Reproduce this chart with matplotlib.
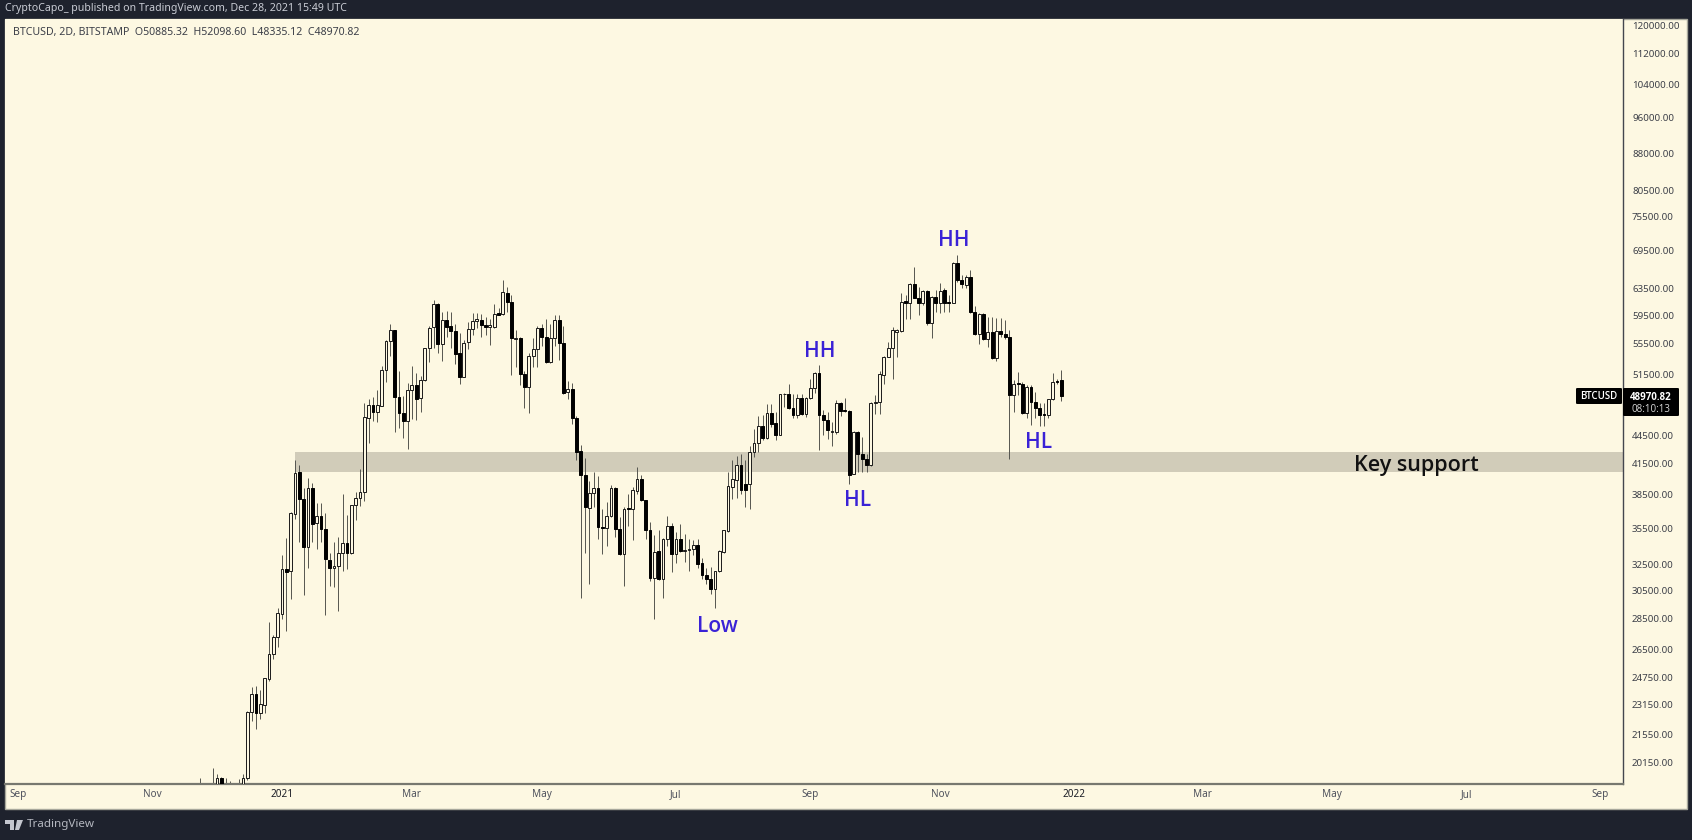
# -*- coding: utf-8 -*-
import pandas as pd
import numpy as np
import matplotlib
matplotlib.use('Agg')
import matplotlib.pyplot as plt
import matplotlib.dates as mdates
from matplotlib.patches import Rectangle, FancyBboxPatch, Polygon
from matplotlib.ticker import NullLocator, NullFormatter

# 2D candles, last one is the bar in the header
opens = [18600,18900,18750,18650,19050,19400,18900,19050,18900,18800,
         19000,19370,22740,23780,22680,23130,24620,26190,27260,28880,
         32150,31980,36740,40660,38100,33900,39100,35920,36600,35400,
         32890,32210,32430,33400,34260,33400,37600,38200,38760,46350,
         47910,47000,47790,52110,55830,57400,48790,46990,46000,49570,
         50240,48650,50800,54880,57800,61080,55450,58800,57950,57200,
         54300,51250,55750,57500,58650,58800,58100,57850,57850,59840,
         59730,62750,61400,56130,56330,51640,50030,53840,54780,57690,
         56450,53100,56330,58800,55600,49350,49800,46320,42810,40430,
         37320,38670,39140,35600,35520,36570,39140,35460,33380,37320,
         37230,38820,40040,37980,35370,31460,33570,31410,34580,35740,
         33380,34580,33570,33700,33750,34130,32630,31710,31380,30670,
         32000,33510,35240,39230,39940,41420,39560,39560,42750,43680,
         45480,44200,46980,45810,44550,49120,49200,47560,46680,48730,
         46800,48690,49900,51730,46750,46200,44840,44840,48080,47250,
         47130,40500,44840,42530,42030,41350,48080,48220,51520,53730,
         54880,57180,57230,61560,61310,64150,62050,61200,63060,58400,
         62200,61200,63210,61410,61260,67550,64770,64050,65290,59980,
         56810,59640,56220,57130,53570,57230,56810,56450,49090,50490,
         50410,46980,50030,48230,47480,46800,46760,48500,50690,50885]
highs = [19400,19000,18950,19880,19570,19450,19400,19230,19050,19320,
         19570,22800,24150,24240,23980,24720,28270,27430,29260,33250,
         34700,36960,41900,41370,39100,40060,39620,37760,37760,36800,
         33400,34350,34790,38560,36640,37600,38760,41000,48120,48550,
         48750,49600,52550,55970,58300,57450,52000,48950,50480,52600,
         51700,51370,54880,57900,61650,61330,60000,60090,59880,58200,
         56950,55970,58450,59840,59840,59730,59200,59000,61080,60500,
         64730,63730,62480,57450,56430,52000,54270,56330,58000,58300,
         59000,58200,59470,59470,57950,50700,50530,46570,43470,42120,
         39820,40690,40270,37220,37830,39400,39230,36480,37380,38600,
         39230,41190,40370,38040,36040,34890,35370,34640,36540,35950,
         35180,35830,35000,34610,34550,34610,33070,32210,32320,32040,
         33650,35370,40670,41850,42270,42530,41850,43300,45200,46610,
         46690,48020,48020,47060,49200,49290,50410,49200,49200,49200,
         48810,51030,51850,52790,47250,47060,45930,48450,48260,48650,
         47250,44920,44950,44290,42530,48180,49010,52000,53950,55700,
         57830,57600,62700,62450,64270,66900,63650,63210,63210,62300,
         63210,64270,63470,62450,67710,68800,65560,65560,66370,60820,
         59830,59830,59160,59260,59040,59040,58790,57460,50820,51850,
         50610,50200,50200,49330,48080,48080,48610,51730,51030,52098]
lows = [18200,18300,18100,18500,18800,18700,18700,18600,18300,18500,
        18900,19300,22280,21810,22380,22680,24500,25840,26600,28520,
        27670,29900,36350,34350,30240,32260,34350,33800,34350,28760,
        30900,30820,29070,32000,32150,33340,36180,37440,37930,43670,
        46080,45890,47700,50550,53950,44850,45300,44130,43000,46280,
        46200,47000,50680,53150,55000,54300,53300,56450,55000,52900,
        50330,51170,54780,56700,57700,56450,56700,55400,57700,59470,
        59470,60000,51500,52460,50240,47490,46950,52460,52460,55200,
        53000,52950,55200,53400,49200,48550,45700,41850,29970,33430,
        31030,37380,34610,33320,34050,36480,34750,33250,30900,35740,
        34520,38600,37920,34610,31230,28510,31360,29970,34050,31920,
        32630,33510,32710,32000,33300,32210,31410,31030,30300,29260,
        31930,33460,35180,38130,38190,38600,37380,37230,42210,42710,
        43930,44110,45380,43930,44450,47600,47450,46320,46320,46680,
        46500,48570,49300,42880,44450,44110,43330,44660,46570,47090,
        39570,40460,40690,40690,40690,41250,46870,46800,50330,53730,
        51030,53780,57130,58990,58990,61950,59500,60950,58080,56350,
        60000,59740,59950,59950,61260,64520,63500,63500,59830,56660,
        55530,56000,55100,53440,53220,56450,56220,42030,47060,49010,
        46870,46320,45630,46320,45490,45490,46320,48420,50400,48335]
closes = [18900,18750,18650,19050,19400,18900,19050,18900,18800,19000,
          19400,22740,23780,22680,23210,24680,26190,27310,28930,32150,
          31900,36810,40590,38100,33900,39100,35860,36540,35400,32950,
          32210,32430,33400,34260,33460,37600,38200,38760,46470,47830,
          47000,47830,52110,55830,57400,48750,46950,46000,49570,50240,
          48610,50800,54880,57690,61080,55450,58800,57850,57200,54200,
          51250,55650,57500,58700,59000,58100,57850,58050,59630,59570,
          62900,61400,56230,56330,51550,50030,53940,54780,57690,56450,
          53150,56330,58800,55650,49300,49800,46350,42710,40430,37380,
          38670,39170,35600,35520,36570,39140,35460,33380,37230,37200,
          38920,40040,37980,35320,31480,33510,31410,34580,35740,33380,
          34580,33590,33700,33750,34130,32580,31710,31380,30670,32000,
          33570,35320,39300,39980,41420,38990,38990,42750,43680,45480,
          44200,46980,45740,44550,49200,49200,47520,46680,48730,46800,
          48690,49900,51730,46680,46200,45090,44950,48080,47170,47130,
          40430,44840,42530,42030,41350,48080,48220,51560,53730,54880,
          57370,57370,61480,61310,64150,61950,61200,63060,58310,62200,
          61200,63110,61310,61310,67550,64770,64100,65290,59980,56810,
          59640,56220,57130,53570,57230,56900,56450,49090,50410,50410,
          46980,50030,48230,47480,46760,46760,48500,50650,50610,48970]

price_ticks = [120000,112000,104000,96000,88000,80500,75500,69500,63500,59500,
               55500,51500,44500,41500,38500,35500,32500,30500,28500,26500,
               24750,23150,21550,20150]
# labels sit on the first 2D bar of each month, so not always the 1st
month_dates = ['2020-09-01','2020-11-02','2021-01-01','2021-03-02','2021-05-01','2021-07-02',
               '2021-09-02','2021-11-01','2022-01-02','2022-03-02','2022-05-01','2022-07-02','2022-09-02']
month_labels = ['Sep','Nov','2021','Mar','May','Jul','Sep','Nov','2022','Mar','May','Jul','Sep']
band_low = 40690
band_high = 42700
band_start = '2021-01-07'

W, H = 1692, 840
DARK = '#1e222d'
CREAM = '#fdf8e2'
BLUE = '#3a22d6'

def fx(px):
    return px / W

def fy(py):
    return 1 - py / H

fig = plt.figure(figsize=(W / 100, H / 100), dpi=100, facecolor=DARK)

# cream panel behind the chart and both axis strips
fig.add_artist(Rectangle((fx(5), fy(809)), fx(1682), (809 - 19) / H, transform=fig.transFigure,
                         facecolor=CREAM, edgecolor='#a8a89c', linewidth=1, zorder=-1))

ax = fig.add_axes([fx(5), fy(784), (1623 - 5) / W, (784 - 19) / H], facecolor=CREAM)

dates = pd.date_range(end='2021-12-27', periods=len(closes), freq='2D')
x = mdates.date2num(dates)
o = np.array(opens)
c = np.array(closes)
up = c >= o

ax.vlines(x, lows, highs, color='#55554f', linewidth=0.7, zorder=2)
ax.bar(x[up], c[up] - o[up], bottom=o[up], width=1.3, facecolor=CREAM, edgecolor='#1a1a1a',
       linewidth=0.7, zorder=3)
ax.bar(x[~up], o[~up] - c[~up], bottom=c[~up], width=1.3, facecolor='black', edgecolor='black',
       linewidth=0.7, zorder=3)

# key support zone
x0 = mdates.date2num(pd.Timestamp('2021-01-01'))
xlim = (x0 - 277 / 2.165, x0 + 1341 / 2.165)
ax.fill_between([mdates.date2num(pd.Timestamp(band_start)), xlim[1]], band_low, band_high,
                color='#d1ccb9', linewidth=0, zorder=1)

ax.set_yscale('log')
ax.set_xlim(xlim)
ax.set_ylim(19110, 121900)

ax.yaxis.tick_right()
ax.set_yticks(price_ticks)
ax.set_yticklabels([f'{v:.2f}' for v in price_ticks], fontsize=7, family='Noto Sans', color='#3c3f48')
ax.yaxis.set_minor_locator(NullLocator())
ax.yaxis.set_minor_formatter(NullFormatter())
ax.tick_params(axis='y', length=0, pad=6.5)

ax.set_xticks(mdates.date2num(pd.to_datetime(month_dates)))
ax.set_xticklabels(month_labels, fontsize=7.2, family='Noto Sans', color='#50535e')
ax.tick_params(axis='x', length=0, pad=3.5)
for lab in ax.get_xticklabels():
    if lab.get_text() in ('2021', '2022'):
        lab.set_color('#1c1e26')
        lab.set_fontweight('bold')

for side in ('top', 'left'):
    ax.spines[side].set_visible(False)
ax.spines['right'].set_color('#44464e')
ax.spines['right'].set_linewidth(1)
ax.spines['bottom'].set_color('#77786f')
ax.spines['bottom'].set_linewidth(1.6)

# swing labels
for txt, px, py in [('HH', 820, 351), ('HH', 954, 241), ('HL', 858, 500), ('HL', 1039, 442), ('Low', 717, 627)]:
    fig.text(fx(px), fy(py), txt, color=BLUE, fontsize=15, family='Open Sans', weight='semibold',
             ha='center', va='center')
fig.text(fx(1416), fy(465), 'Key support', color='#111111', fontsize=15.5, family='Open Sans',
         weight='semibold', ha='center', va='center')

# header, symbol line, footer
fig.text(fx(5), fy(8), 'CryptoCapo_ published on TradingView.com, Dec 28, 2021 15:49 UTC',
         color='#c9ccd4', fontsize=7.6, family='Noto Sans', va='center')
fig.text(fx(13), fy(33), 'BTCUSD, 2D, BITSTAMP  O50885.32  H52098.60  L48335.12  C48970.82',
         color='#3c3f48', fontsize=7.6, family='Noto Sans', va='center')
fig.text(fx(27), fy(825), 'TradingView', color='#b4b7bf', fontsize=8.4, family='Noto Sans', va='center')

# logo
for pts in [[(5, 820), (14, 820), (14, 830), (10, 830), (10, 824), (5, 824)],
            [(17, 820), (23, 820), (19, 830), (15, 830)]]:
    fig.add_artist(Polygon([(fx(a), fy(b)) for a, b in pts], transform=fig.transFigure,
                           facecolor='#c4c7cf', edgecolor='none'))

# last price tags
for (a, b, w, h) in [(1576, 388, 46, 16), (1623, 388, 56, 28)]:
    fig.add_artist(FancyBboxPatch((fx(a), fy(b + h)), w / W, h / H, transform=fig.transFigure,
                                  boxstyle='round,pad=0,rounding_size=0.001', facecolor='black',
                                  edgecolor='none', zorder=5))
fig.text(fx(1599), fy(396.5), 'BTCUSD', color='white', fontsize=7, family='Open Sans', weight='semibold',
         ha='center', va='center', zorder=6)
fig.text(fx(1651), fy(397), '48970.82', color='white', fontsize=7, family='Open Sans', weight='bold',
         ha='center', va='center', zorder=6)
fig.text(fx(1651), fy(409), '08:10:13', color='#d8d8d8', fontsize=7, family='Open Sans', ha='center',
         va='center', zorder=6)

fig.savefig('out.png', dpi=100, facecolor=DARK)
